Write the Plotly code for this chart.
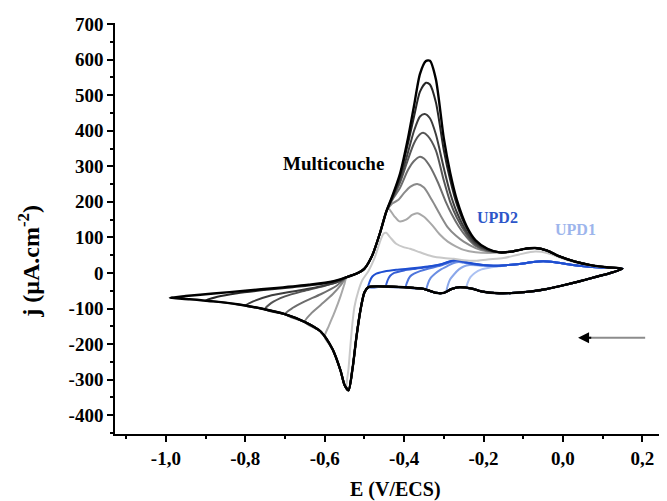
import plotly.graph_objects as go

# ---------------- data (E in V/ECS, j in µA.cm-2) ----------------
# shared cathodic (negative-going) branch, read on the outer black cycle
cath_E = [0.15, 0.12, 0.08, 0.04, 0.0, -0.04, -0.08, -0.12, -0.16, -0.20, -0.23, -0.26,
          -0.28, -0.30, -0.32, -0.35, -0.40, -0.45, -0.49, -0.50, -0.51, -0.52, -0.53,
          -0.54, -0.55, -0.56, -0.58, -0.61, -0.65, -0.70, -0.76, -0.82, -0.88, -0.94, -0.99]
cath_j = [12, 0, -12, -24, -35, -45, -52, -56, -57, -53, -44, -40,
          -45, -56, -56, -45, -40, -38, -40, -55, -105, -180, -270,
          -330, -315, -275, -215, -165, -138, -116, -100, -88, -80, -74, -70]

# common rising part of the anodic scan (multilayer stripping foot)
rise_pts = [(-0.545, -12), (-0.52, -2), (-0.50, 12), (-0.48, 50), (-0.46, 115), (-0.445, 172)]
# common tail of the anodic scan towards the positive vertex
tail_pts = [(-0.16, 58), (-0.13, 60), (-0.10, 67), (-0.07, 70), (-0.04, 63), (-0.01, 47),
            (0.03, 32), (0.07, 22), (0.11, 16), (0.15, 12)]

# gray cycles: negative vertex, return branch, stripping peak
vertex_list = [-0.99, -0.90, -0.80, -0.75, -0.70, -0.65, -0.60]
gray_colors = ["#000000", "#262626", "#3d3d3d", "#555555", "#6d6d6d", "#8a8a8a", "#a8a8a8"]
return_pts = [
    [(-0.99, -70), (-0.95, -65), (-0.88, -58), (-0.80, -50), (-0.72, -42), (-0.64, -33), (-0.58, -24)],
    [(-0.90, -78), (-0.87, -67), (-0.82, -57), (-0.76, -49), (-0.68, -40), (-0.61, -31), (-0.57, -22)],
    [(-0.80, -92), (-0.78, -80), (-0.74, -65), (-0.68, -52), (-0.62, -40), (-0.57, -26)],
    [(-0.75, -103), (-0.735, -85), (-0.70, -66), (-0.65, -50), (-0.60, -36), (-0.56, -22)],
    [(-0.70, -116), (-0.68, -98), (-0.65, -80), (-0.61, -60), (-0.57, -36)],
    [(-0.65, -138), (-0.635, -115), (-0.61, -90), (-0.58, -60), (-0.56, -35)],
    [(-0.60, -180), (-0.59, -150), (-0.575, -110), (-0.56, -65), (-0.55, -30)],
]
peak_pts = [
    [(-0.43, 215), (-0.41, 280), (-0.39, 380), (-0.375, 470), (-0.36, 560), (-0.345, 596), (-0.335, 597),
     (-0.32, 545), (-0.30, 378), (-0.284, 282), (-0.267, 205), (-0.242, 130), (-0.22, 92), (-0.19, 68)],
    [(-0.43, 213), (-0.41, 275), (-0.39, 365), (-0.375, 440), (-0.36, 510), (-0.345, 535), (-0.335, 530),
     (-0.32, 480), (-0.30, 345), (-0.284, 262), (-0.267, 192), (-0.242, 125), (-0.22, 89), (-0.19, 67)],
    [(-0.43, 210), (-0.41, 265), (-0.39, 340), (-0.375, 400), (-0.36, 440), (-0.348, 447), (-0.335, 435),
     (-0.32, 390), (-0.30, 295), (-0.284, 225), (-0.267, 170), (-0.242, 115), (-0.22, 84), (-0.19, 65)],
    [(-0.43, 208), (-0.41, 255), (-0.39, 320), (-0.375, 365), (-0.36, 390), (-0.352, 394), (-0.34, 385),
     (-0.32, 345), (-0.30, 260), (-0.284, 200), (-0.267, 155), (-0.242, 108), (-0.22, 80), (-0.19, 64)],
    [(-0.43, 205), (-0.41, 240), (-0.39, 290), (-0.375, 315), (-0.36, 327), (-0.35, 322), (-0.335, 300),
     (-0.315, 255), (-0.295, 200), (-0.28, 165), (-0.262, 130), (-0.242, 100), (-0.22, 76), (-0.19, 62)],
    [(-0.43, 195), (-0.415, 205), (-0.40, 225), (-0.385, 242), (-0.367, 250), (-0.35, 240), (-0.33, 205),
     (-0.31, 165), (-0.29, 128), (-0.27, 105), (-0.25, 88), (-0.22, 70), (-0.19, 60)],
    [(-0.44, 182), (-0.425, 160), (-0.412, 145), (-0.395, 150), (-0.38, 163), (-0.367, 168), (-0.35, 158),
     (-0.33, 135), (-0.31, 108), (-0.29, 88), (-0.27, 75), (-0.25, 65), (-0.22, 58), (-0.19, 56)],
]

# lightest gray cycle (vertex at the cathodic peak)
light_vertex = -0.545
light_color = "#c8c8c8"
light_pts = [(-0.545, -322), (-0.54, -270), (-0.536, -215), (-0.53, -140), (-0.525, -95), (-0.515, -50),
             (-0.505, -20), (-0.49, 5), (-0.475, 40), (-0.46, 90), (-0.452, 110), (-0.445, 113),
             (-0.435, 100), (-0.42, 82), (-0.40, 72), (-0.385, 68), (-0.36, 58), (-0.33, 47),
             (-0.30, 42), (-0.275, 40), (-0.25, 36), (-0.22, 34), (-0.19, 38), (-0.15, 42),
             (-0.11, 52), (-0.07, 60), (-0.04, 56), (-0.01, 44), (0.03, 30), (0.07, 21), (0.11, 16), (0.15, 12)]

# blue UPD cycles
blue_vertex = [-0.49, -0.445, -0.395, -0.343, -0.293, -0.243]
blue_colors = ["#1f4fd1", "#365fd5", "#4f76dc", "#6b8ee3", "#8aa7ea", "#abc1f2"]
blue_head = [
    [(-0.49, -40), (-0.487, -25), (-0.48, -10), (-0.47, -2), (-0.45, 4), (-0.42, 9), (-0.38, 13), (-0.34, 18),
     (-0.31, 24), (-0.29, 31), (-0.275, 36), (-0.265, 36), (-0.25, 32), (-0.23, 27), (-0.20, 22), (-0.17, 20)],
    [(-0.445, -38), (-0.442, -22), (-0.435, -8), (-0.425, 0), (-0.40, 7), (-0.37, 12), (-0.34, 17), (-0.31, 23),
     (-0.29, 30), (-0.275, 35), (-0.265, 35), (-0.25, 31), (-0.23, 26), (-0.20, 22), (-0.17, 20)],
    [(-0.395, -40), (-0.392, -25), (-0.385, -10), (-0.375, -2), (-0.36, 5), (-0.34, 12), (-0.31, 20),
     (-0.29, 28), (-0.275, 33), (-0.265, 34), (-0.25, 30), (-0.23, 26), (-0.20, 22), (-0.17, 20)],
    [(-0.343, -46), (-0.34, -30), (-0.333, -14), (-0.323, -3), (-0.31, 8), (-0.29, 20), (-0.275, 28),
     (-0.262, 31), (-0.25, 29), (-0.23, 25), (-0.20, 21), (-0.17, 20)],
    [(-0.293, -52), (-0.29, -35), (-0.284, -18), (-0.275, -5), (-0.262, 10), (-0.25, 18), (-0.235, 22),
     (-0.20, 20), (-0.17, 19)],
    [(-0.243, -43), (-0.24, -28), (-0.233, -12), (-0.222, 0), (-0.205, 10), (-0.18, 16), (-0.16, 19)],
]
blue_tail = [(-0.14, 22), (-0.11, 25), (-0.08, 30), (-0.05, 33), (-0.02, 30), (0.02, 23),
             (0.06, 18), (0.10, 15), (0.15, 12)]

x_ticks = [-1.0, -0.8, -0.6, -0.4, -0.2, 0.0, 0.2]
x_ticktext = ["-1,0", "-0,8", "-0,6", "-0,4", "-0,2", "0,0", "0,2"]
x_minor = [-1.1, -0.9, -0.7, -0.5, -0.3, -0.1, 0.1]
y_ticks = [-400, -300, -200, -100, 0, 100, 200, 300, 400, 500, 600, 700]
y_ticktext = ["-400", "-300", "-200", "-100", "0", "100", "200", "300", "400", "500", "600", "700"]
y_minor = [-450, -350, -250, -150, -50, 50, 150, 250, 350, 450, 550, 650]


def cycle(vertex, anodic):
    E = [e for e in cath_E if e > vertex + 1e-9]
    j = [cath_j[i] for i, e in enumerate(cath_E) if e > vertex + 1e-9]
    E += [p[0] for p in anodic]
    j += [p[1] for p in anodic]
    return E, j


fig = go.Figure()
LINE = dict(shape="spline", smoothing=0.7)

# blue UPD cycles (light first)
for k in reversed(range(len(blue_vertex))):
    E, j = cycle(blue_vertex[k], blue_head[k] + blue_tail)
    fig.add_trace(go.Scatter(x=E, y=j, mode="lines",
                             line=dict(color=blue_colors[k], width=2, **LINE), hoverinfo="skip"))

# lightest gray
E, j = cycle(light_vertex, light_pts)
fig.add_trace(go.Scatter(x=E, y=j, mode="lines", line=dict(color=light_color, width=2, **LINE), hoverinfo="skip"))

# gray to black cycles
for k in reversed(range(len(vertex_list))):
    E, j = cycle(vertex_list[k], return_pts[k] + rise_pts + peak_pts[k] + tail_pts)
    fig.add_trace(go.Scatter(x=E, y=j, mode="lines",
                             line=dict(color=gray_colors[k], width=2.4 if k == 0 else 2, **LINE),
                             hoverinfo="skip"))

SERIF = "Liberation Serif"
axis_common = dict(showline=True, linecolor="black", linewidth=1.5, ticks="outside", ticklen=6,
                   tickwidth=1.5, tickcolor="black", showgrid=False, zeroline=False,
                   tickfont=dict(family=SERIF, size=19, color="black", weight="bold"))

fig.update_layout(
    width=659, height=493,
    margin=dict(l=107, r=0, t=15, b=67),
    paper_bgcolor="white", plot_bgcolor="white",
    showlegend=False,
    xaxis=dict(range=[-1.128, 0.262], tickmode="array", tickvals=x_ticks, ticktext=x_ticktext,
               minor=dict(tickmode="array", tickvals=x_minor, ticks="outside", ticklen=3,
                          tickwidth=1.5, tickcolor="black"),
               **axis_common),
    yaxis=dict(range=[-453, 703], tickmode="array", tickvals=y_ticks, ticktext=y_ticktext,
               minor=dict(tickmode="array", tickvals=y_minor, ticks="outside", ticklen=3,
                          tickwidth=1.5, tickcolor="black"),
               **axis_common),
    shapes=[
        dict(type="line", xref="x", yref="y", x0=0.06, x1=0.207, y0=-182, y1=-182,
             line=dict(color="#8c8c8c", width=2)),
    ],
    annotations=[
        dict(text="E (V/ECS)", xref="paper", yref="paper", x=0.508, y=-0.136, showarrow=False,
             font=dict(family=SERIF, size=20, color="black", weight="bold"), yanchor="middle"),
        dict(text="j (µA.cm<sup>-2</sup>)", xref="paper", yref="paper", x=-0.156, y=0.421,
             showarrow=False, textangle=-90,
             font=dict(family=SERIF, size=24, color="black", weight="bold"), xanchor="center"),
        dict(text="Multicouche", x=-0.578, y=309, showarrow=False,
             font=dict(family=SERIF, size=19, color="black", weight="bold")),
        dict(text="UPD2", x=-0.165, y=155, showarrow=False,
             font=dict(family=SERIF, size=16, color="#2d56c9", weight="bold")),
        dict(text="UPD1", x=0.031, y=121, showarrow=False,
             font=dict(family=SERIF, size=16, color="#9db5ec", weight="bold")),
        dict(x=0.038, y=-182, ax=0.075, ay=-182, axref="x", ayref="y", text="",
             showarrow=True, arrowhead=2, arrowsize=1.1, arrowwidth=2, arrowcolor="black"),
    ],
)

fig.write_html("out.html")
